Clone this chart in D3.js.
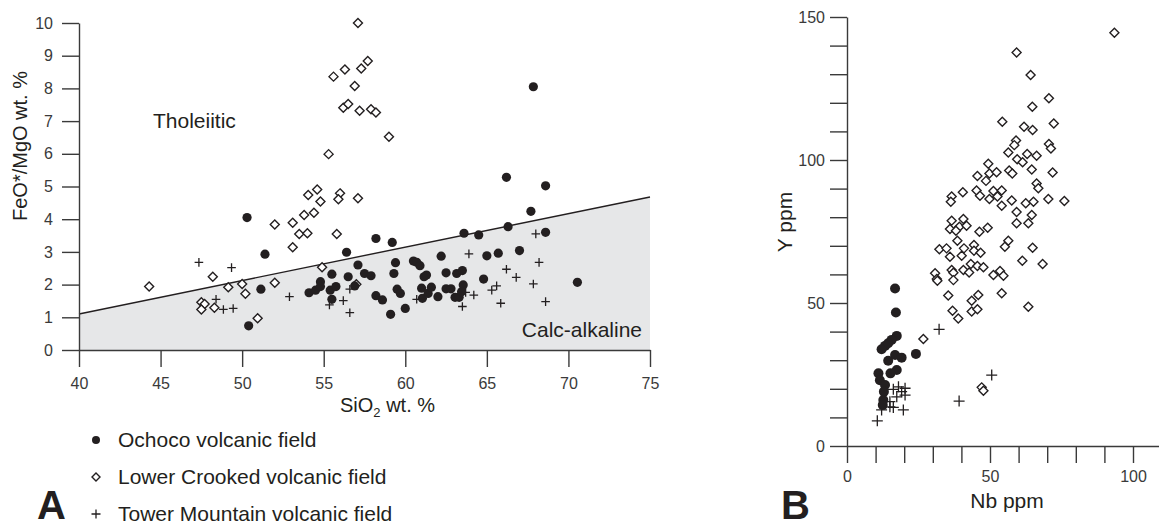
<!DOCTYPE html>
<html>
<head>
<meta charset="utf-8">
<script src="https://cdn.jsdelivr.net/npm/d3@7"></script>
<style>
  body { margin: 0; background: #fff; }
  svg { display: block; font-family: 'Liberation Sans', Arial, Helvetica, sans-serif; }
</style>
</head>
<body>
<svg id="chart" width="1159" height="527"></svg>
<script>
// ---- panel A : FeO*/MgO vs SiO2 ----
const seriesNames = ['Ochoco volcanic field', 'Lower Crooked volcanic field', 'Tower Mountain volcanic field']

const ochocoSiO2 = [50.3, 51.4, 50.4, 51.15, 54.1, 54.5, 54.8, 54.8, 55.4, 55.5, 55.5, 55.75, 56.4, 56.5, 56.9, 57.1, 57.5, 57.9, 58.2, 58.2, 58.6, 59.2, 59.4, 59.3, 59.1, 59.5, 59.7, 60.0, 60.5, 60.7, 60.9, 61.0, 61.15, 61.3, 61.05, 61.4, 61.6, 62.0, 62.2, 62.5, 62.5, 62.8, 63.05, 63.15, 63.5, 63.3, 63.55, 63.45, 63.6, 64.5, 64.8, 65.0, 65.7, 66.3, 67.0, 67.7, 68.6, 68.6, 70.55, 67.85, 66.2]
const ochocoFeMg = [4.05, 2.93, 0.74, 1.86, 1.75, 1.83, 2.09, 1.94, 1.83, 2.32, 1.55, 1.94, 2.99, 2.24, 1.96, 2.6, 2.34, 2.27, 3.41, 1.66, 1.53, 3.29, 2.67, 2.34, 1.09, 1.86, 1.73, 1.27, 2.72, 2.68, 2.58, 1.89, 2.24, 2.29, 1.58, 1.73, 1.92, 1.63, 2.87, 2.36, 1.87, 1.87, 1.61, 2.34, 2.43, 1.61, 1.99, 1.78, 3.57, 3.52, 2.17, 2.88, 2.96, 3.77, 3.04, 4.24, 5.02, 3.6, 2.07, 8.05, 5.28]

const crookedSiO2 = [57.1, 55.6, 56.3, 57.3, 57.7, 56.9, 56.2, 56.5, 57.2, 57.9, 58.2, 59.0, 55.3, 44.3, 48.2, 47.5, 47.7, 47.5, 48.3, 49.15, 50.0, 50.2, 50.95, 52.0, 52.0, 53.1, 53.1, 53.5, 53.8, 54.0, 54.05, 54.4, 54.6, 54.8, 54.9, 55.8, 56.0, 55.9, 57.1, 57.0]
const crookedFeMg = [10.0, 8.36, 8.58, 8.61, 8.84, 8.07, 7.41, 7.52, 7.32, 7.36, 7.26, 6.52, 5.99, 1.94, 2.24, 1.46, 1.41, 1.24, 1.29, 1.92, 2.02, 1.72, 0.97, 2.06, 3.84, 3.89, 3.14, 3.55, 4.13, 3.57, 4.74, 4.2, 4.91, 4.54, 2.53, 3.55, 4.79, 4.61, 4.64, 2.01]

const towerSiO2 = [47.35, 49.35, 48.4, 48.85, 49.45, 52.9, 55.35, 56.2, 56.6, 56.6, 60.7, 63.5, 63.9, 64.2, 65.3, 65.6, 65.85, 66.2, 66.8, 67.85, 68.0, 68.2, 68.6, 63.7]
const towerFeMg = [2.68, 2.52, 1.55, 1.24, 1.27, 1.63, 1.38, 1.51, 1.14, 1.86, 1.55, 1.33, 2.94, 1.68, 1.83, 1.96, 1.43, 2.47, 2.22, 2.02, 3.55, 2.68, 1.48, 1.76]

// tholeiitic / calc-alkaline dividing line
const dividerSiO2 = [40, 75]
const dividerFeMg = [1.1, 4.68]

const ticksSiO2 = [40, 45, 50, 55, 60, 65, 70, 75]
const ticksFeMg = [0, 1, 2, 3, 4, 5, 6, 7, 8, 9, 10]

// ---- panel B : Y vs Nb ----
const ochocoNb = [16.8, 17.1, 17.4, 15.6, 13.3, 12.1, 16.8, 19.1, 14.4, 24.1, 17.4, 11.0, 15.2, 11.5, 13.3, 12.9, 12.7, 12.5, 14.4]
const ochocoY = [55.1, 46.7, 38.5, 37.1, 35.0, 33.8, 31.8, 30.9, 29.8, 32.2, 26.6, 25.4, 25.4, 23.0, 21.3, 19.0, 16.1, 14.3, 35.9]

const crookedNb = [93.5, 59.3, 64.2, 70.6, 64.8, 54.3, 61.9, 64.9, 72.3, 59.1, 58.5, 70.6, 71.3, 56.4, 59.5, 61.4, 63.0, 66.3, 49.4, 45.6, 49.8, 52.3, 48.6, 56.7, 57.8, 64.6, 71.9, 66.3, 66.9, 36.6, 36.3, 40.5, 45.3, 46.5, 51.2, 54.1, 49.8, 52.6, 54.1, 57.6, 62.5, 65.2, 70.4, 76.0, 59.3, 64.6, 59.3, 63.4, 36.6, 40.7, 36.0, 39.3, 41.8, 38.1, 46.3, 49.2, 38.6, 44.4, 56.4, 55.2, 64.9, 32.3, 34.8, 40.9, 44.4, 46.7, 36.0, 40.1, 30.8, 31.4, 31.6, 36.6, 37.2, 37.2, 40.7, 42.7, 43.3, 45.6, 47.7, 51.2, 53.5, 54.7, 61.3, 68.4, 35.4, 36.9, 38.9, 43.6, 45.9, 43.6, 45.6, 54.1, 63.4, 26.7, 47.1, 47.7]
const crookedY = [144.5, 137.6, 129.7, 121.6, 118.6, 113.4, 111.6, 110.5, 112.8, 106.8, 105.2, 105.6, 104.0, 102.6, 100.3, 99.2, 102.1, 101.5, 98.7, 94.4, 95.3, 95.7, 92.7, 96.3, 95.3, 96.7, 95.6, 91.8, 90.1, 87.2, 85.4, 88.7, 89.3, 87.5, 89.2, 89.3, 86.4, 87.2, 84.0, 85.8, 84.9, 85.4, 86.4, 85.7, 81.8, 80.8, 77.9, 77.9, 78.8, 79.4, 75.9, 76.7, 77.0, 75.3, 74.9, 76.3, 71.8, 70.3, 71.8, 69.7, 69.3, 68.8, 69.1, 69.1, 68.3, 67.6, 66.2, 66.5, 60.4, 58.4, 57.8, 61.5, 60.6, 58.0, 61.5, 60.7, 63.6, 62.9, 62.5, 59.8, 61.2, 59.5, 64.8, 63.6, 52.6, 47.3, 44.6, 50.8, 52.8, 47.0, 47.8, 53.4, 48.7, 37.4, 20.5, 19.3]

const towerNb = [32.2, 50.6, 39.2, 10.6, 12.1, 15.0, 16.2, 19.7, 16.2, 18.0, 19.1, 20.3, 17.4, 20.3, 15.0]
const towerY = [40.8, 24.8, 15.7, 8.8, 12.6, 15.5, 13.5, 12.6, 19.8, 20.7, 19.0, 20.2, 17.2, 17.8, 13.7]

const ticksNb = d3.range(0, 111, 10)
const ticksY = d3.range(0, 151, 10)

const styles = {
  ink: '#231f20',
  axis: '#3a3a3a',
  field: '#e6e7e8',
  tickFont: '16px',
  labelFont: '21px',
  legendFont: '22px',
  panelFont: '40px',
}

const svg = d3.select('#chart')

// marker shapes
function drawMarker(g, kind, r) {
  if (kind === 'circle') {
    g.append('circle').attr('r', r).style('fill', styles.ink)
  } else if (kind === 'diamond') {
    g.append('path')
      .attr('d', `M0,${-r}L${r},0L0,${r}L${-r},0Z`)
      .style('fill', '#fff')
      .style('stroke', styles.ink)
      .style('stroke-width', 1.4)
  } else {
    g.append('path')
      .attr('d', `M${-r},0H${r}M0,${-r}V${r}`)
      .style('fill', 'none')
      .style('stroke', styles.ink)
      .style('stroke-width', 1.3)
  }
}

function plotSeries(layer, xs, ys, xScale, yScale, kind, r) {
  layer
    .append('g')
    .selectAll('g')
    .data(d3.zip(xs, ys))
    .enter()
    .append('g')
    .attr('transform', d => `translate(${xScale(d[0])},${yScale(d[1])})`)
    .each(function() {
      drawMarker(d3.select(this), kind, r)
    })
}

function styleAxis(g) {
  g.selectAll('path, line')
    .style('stroke', styles.axis)
    .style('stroke-width', 1.4)
  g.selectAll('text')
    .style('fill', styles.axis)
    .style('font-size', styles.tickFont)
    .style('font-family', "'Liberation Sans', Arial, sans-serif")
}

// ================= panel A =================
const xA = d3.scaleLinear().domain([40, 75]).range([79, 650])
const yA = d3.scaleLinear().domain([0, 10]).range([350, 23])

const panelA = svg.append('g')

// calc-alkaline field
const divider = d3.zip(dividerSiO2, dividerFeMg)
panelA
  .append('path')
  .attr('d', d3.area().x(d => xA(d[0])).y0(yA(0)).y1(d => yA(d[1]))(divider))
  .style('fill', styles.field)

panelA
  .append('path')
  .attr('d', d3.line().x(d => xA(d[0])).y(d => yA(d[1]))(divider))
  .style('fill', 'none')
  .style('stroke', styles.ink)
  .style('stroke-width', 1.4)

panelA
  .append('g')
  .attr('transform', `translate(0,${yA(0)})`)
  .call(d3.axisBottom(xA).tickValues(ticksSiO2).tickSize(17).tickSizeOuter(0).tickPadding(11))
  .call(styleAxis)

panelA
  .append('g')
  .attr('transform', `translate(${xA(40)},0)`)
  .call(d3.axisLeft(yA).tickValues(ticksFeMg).tickSize(17).tickSizeOuter(0).tickPadding(9))
  .call(styleAxis)

plotSeries(panelA, crookedSiO2, crookedFeMg, xA, yA, 'diamond', 4.5)
plotSeries(panelA, towerSiO2, towerFeMg, xA, yA, 'cross', 4.3)
plotSeries(panelA, ochocoSiO2, ochocoFeMg, xA, yA, 'circle', 4.6)

panelA
  .append('text')
  .attr('x', 153)
  .attr('y', 128)
  .text('Tholeiitic')
  .style('font-size', styles.labelFont)
  .style('fill', styles.ink)

panelA
  .append('text')
  .attr('x', 642)
  .attr('y', 337)
  .attr('text-anchor', 'end')
  .text('Calc-alkaline')
  .style('font-size', styles.labelFont)
  .style('fill', styles.ink)

// axis titles
const siLabel = panelA
  .append('text')
  .attr('x', 340)
  .attr('y', 412)
  .style('font-size', '20px')
  .style('fill', styles.ink)
siLabel.append('tspan').text('SiO')
siLabel.append('tspan').attr('dy', 5).style('font-size', '13px').text('2')
siLabel.append('tspan').attr('dy', -5).text(' wt. %')

panelA
  .append('text')
  .attr('transform', 'translate(27,146) rotate(-90)')
  .attr('text-anchor', 'middle')
  .text('FeO*/MgO wt. %')
  .style('font-size', '20px')
  .style('fill', styles.ink)

// legend
const legendRows = [
  { name: seriesNames[0], kind: 'circle', r: 4 },
  { name: seriesNames[1], kind: 'diamond', r: 4 },
  { name: seriesNames[2], kind: 'cross', r: 4.5 },
]
const legend = panelA
  .append('g')
  .selectAll('g')
  .data(legendRows)
  .enter()
  .append('g')
  .attr('transform', (d, i) => `translate(96,${440 + i * 37})`)

legend.each(function(d) {
  drawMarker(d3.select(this), d.kind, d.r)
})
legend
  .append('text')
  .attr('x', 22)
  .attr('y', 7)
  .text(d => d.name)
  .style('font-size', '21px')
  .style('fill', styles.ink)

panelA
  .append('text')
  .attr('x', 37)
  .attr('y', 519)
  .text('A')
  .style('font-size', styles.panelFont)
  .style('font-weight', 'bold')
  .style('fill', styles.ink)

// ================= panel B =================
const xB = d3.scaleLinear().domain([0, 110]).range([847, 847 + 110 * 2.86])
const yB = d3.scaleLinear().domain([0, 150]).range([446, 17])

const panelB = svg.append('g')

panelB
  .append('g')
  .attr('transform', `translate(0,${yB(0)})`)
  .call(
    d3.axisBottom(xB)
      .tickValues(ticksNb)
      .tickFormat(d => (d % 50 === 0 ? d : ''))
      .tickSize(17)
      .tickSizeOuter(0)
      .tickPadding(8)
  )
  .call(styleAxis)

panelB
  .append('g')
  .attr('transform', `translate(${xB(0)},0)`)
  .call(
    d3.axisLeft(yB)
      .tickValues(ticksY)
      .tickFormat(d => (d % 50 === 0 ? d : ''))
      .tickSize(17)
      .tickSizeOuter(0)
      .tickPadding(5)
  )
  .call(styleAxis)

plotSeries(panelB, crookedNb, crookedY, xB, yB, 'diamond', 4.5)
plotSeries(panelB, towerNb, towerY, xB, yB, 'cross', 5.5)
plotSeries(panelB, ochocoNb, ochocoY, xB, yB, 'circle', 5)

panelB
  .append('text')
  .attr('x', 1007)
  .attr('y', 508)
  .attr('text-anchor', 'middle')
  .text('Nb ppm')
  .style('font-size', styles.labelFont)
  .style('fill', styles.ink)

panelB
  .append('text')
  .attr('transform', 'translate(792,222) rotate(-90)')
  .attr('text-anchor', 'middle')
  .text('Y ppm')
  .style('font-size', styles.labelFont)
  .style('fill', styles.ink)

panelB
  .append('text')
  .attr('x', 781)
  .attr('y', 519)
  .text('B')
  .style('font-size', styles.panelFont)
  .style('font-weight', 'bold')
  .style('fill', styles.ink)
</script>
</body>
</html>
